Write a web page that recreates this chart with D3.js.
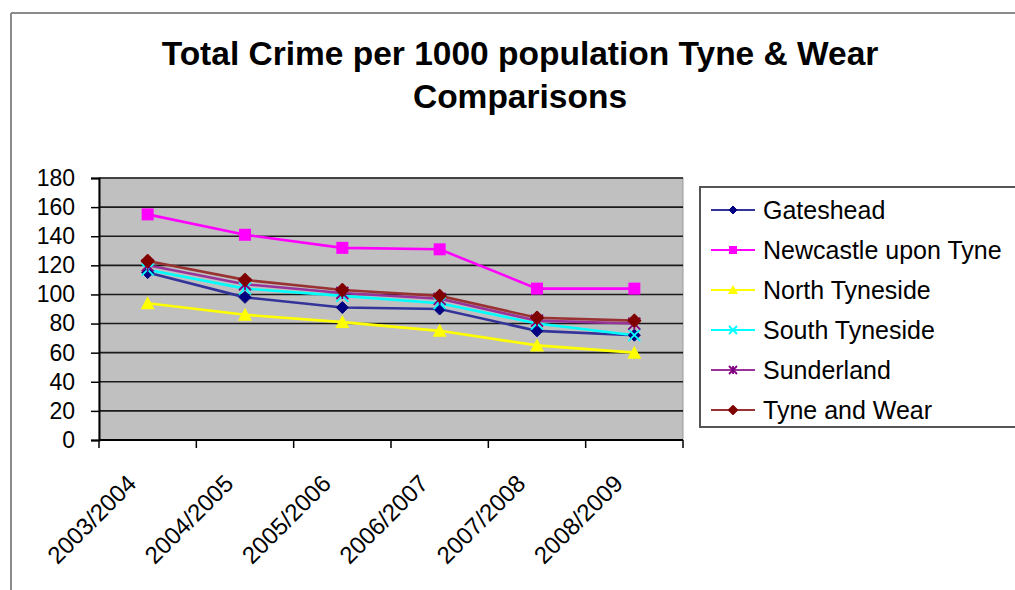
<!DOCTYPE html>
<html>
<head>
<meta charset="utf-8">
<script src="https://cdn.jsdelivr.net/npm/d3@7"></script>
<style>
  html, body { margin: 0; padding: 0; background: #fff; }
  svg { display: block; font-family: Arial, "Liberation Sans", sans-serif; }
</style>
</head>
<body>
<svg id="chart" width="1015" height="590"></svg>
<script>
// Financial years on the category axis
const years = ["2003/2004", "2004/2005", "2005/2006", "2006/2007", "2007/2008", "2008/2009"];

// Total crime per 1000 population, one array per area
const gateshead     = [115, 98, 91, 90, 75, 72];
const newcastle     = [155, 141, 132, 131, 104, 104];
const northTyneside = [94, 86, 81, 75, 65, 60];
const southTyneside = [117, 104, 99, 94, 80, 72];
const sunderland    = [120, 107, 101, 97, 82, 80];
const tyneAndWear   = [123, 110, 103, 99, 84, 82];

const seriesNames = ["Gateshead", "Newcastle upon Tyne", "North Tyneside", "South Tyneside", "Sunderland", "Tyne and Wear"];
const yTicks = [0, 20, 40, 60, 80, 100, 120, 140, 160, 180];

const series = [
  { name: seriesNames[0], values: gateshead,     line: "#333399", mark: "#000080", shape: "diamond" },
  { name: seriesNames[1], values: newcastle,     line: "#FF00FF", mark: "#FF00FF", shape: "square" },
  { name: seriesNames[2], values: northTyneside, line: "#FFFF00", mark: "#FFFF00", shape: "triangle" },
  { name: seriesNames[3], values: southTyneside, line: "#00FFFF", mark: "#00FFFF", shape: "cross" },
  { name: seriesNames[4], values: sunderland,    line: "#993399", mark: "#800080", shape: "star" },
  { name: seriesNames[5], values: tyneAndWear,   line: "#993333", mark: "#800000", shape: "dot" }
];

const svg = d3.select("#chart");

// outer frame of the chart
svg.append("line").attr("x1", 11).attr("x2", 1015).attr("y1", 13).attr("y2", 13)
  .attr("stroke", "#8a8a8a").attr("stroke-width", 2);
svg.append("line").attr("x1", 11).attr("x2", 11).attr("y1", 13).attr("y2", 590)
  .attr("stroke", "#8a8a8a").attr("stroke-width", 2);

// title
const title = svg.append("text").attr("text-anchor", "middle")
  .attr("font-size", 33.5).attr("font-weight", "bold").attr("fill", "#000");
title.append("tspan").attr("x", 520).attr("y", 65).text("Total Crime per 1000 population Tyne & Wear");
title.append("tspan").attr("x", 520).attr("y", 108).text("Comparisons");

const plot = { left: 99, right: 683, top: 178, bottom: 440 };

const x = d3.scaleBand().domain(years).range([plot.left, plot.right]);
const y = d3.scaleLinear().domain([0, 180]).range([plot.bottom, plot.top]);

// plot area
svg.append("rect")
  .attr("x", plot.left).attr("y", plot.top)
  .attr("width", plot.right - plot.left).attr("height", plot.bottom - plot.top)
  .attr("fill", "#C0C0C0").attr("stroke", "#9a9a9a").attr("stroke-width", 1);

// horizontal gridlines
svg.append("g").selectAll("line").data(yTicks.filter(d => d > 0)).join("line")
  .attr("x1", plot.left).attr("x2", plot.right)
  .attr("y1", d => y(d)).attr("y2", d => y(d))
  .attr("stroke", "#1a1a1a").attr("stroke-width", 1.6);

// y axis
const yAxis = svg.append("g").attr("transform", `translate(${plot.left},0)`)
  .call(d3.axisLeft(y).tickValues(yTicks).tickSize(8).tickPadding(16));
yAxis.select(".domain").attr("stroke", "#000").attr("stroke-width", 2);
yAxis.selectAll(".tick line").attr("stroke", "#000").attr("stroke-width", 1.5);
yAxis.selectAll(".tick text").attr("font-size", 23).attr("fill", "#000")
  .attr("font-family", "Arial, 'Liberation Sans', sans-serif");

// x axis: ticks sit on category boundaries
const xAxisG = svg.append("g").attr("transform", `translate(0,${plot.bottom})`);
xAxisG.append("line").attr("x1", plot.left).attr("x2", plot.right).attr("y1", 0).attr("y2", 0)
  .attr("stroke", "#000").attr("stroke-width", 2);
const bounds = years.map(d => x(d)).concat([x(years[years.length - 1]) + x.bandwidth()]);
xAxisG.selectAll("line.tk").data(bounds).join("line").attr("class", "tk")
  .attr("x1", d => d).attr("x2", d => d).attr("y1", 0).attr("y2", 8)
  .attr("stroke", "#000").attr("stroke-width", 1.5);
xAxisG.selectAll("text").data(years).join("text")
  .attr("text-anchor", "end")
  .attr("font-size", 24).attr("fill", "#000")
  .attr("transform", d => `translate(${x(d) + x.bandwidth() / 2 - 10},${45}) rotate(-45)`)
  .text(d => d);

const cx = d => x(d) + x.bandwidth() / 2;

const line = d3.line().x((v, i) => cx(years[i])).y(v => y(v));

function drawMarker(g, shape, color, s) {
  if (shape === "diamond") {
    g.append("path").attr("d", `M0,${-s}L${s},0L0,${s}L${-s},0Z`).attr("fill", color).attr("stroke", color);
  } else if (shape === "square") {
    g.append("rect").attr("x", -s).attr("y", -s).attr("width", 2 * s).attr("height", 2 * s).attr("fill", color);
  } else if (shape === "triangle") {
    g.append("path").attr("d", `M0,${-s - 1}L${s + 1},${s}L${-s - 1},${s}Z`).attr("fill", color);
  } else if (shape === "cross") {
    g.append("path").attr("d", `M${-s},${-s}L${s},${s}M${-s},${s}L${s},${-s}`).attr("stroke", color).attr("stroke-width", 1.8);
  } else if (shape === "star") {
    g.append("path").attr("d", `M${-s},${-s}L${s},${s}M${-s},${s}L${s},${-s}M0,${-s}L0,${s}`).attr("stroke", color).attr("stroke-width", 1.8);
  } else if (shape === "dot") {
    g.append("path").attr("d", `M0,${-s}L${s},0L0,${s}L${-s},0Z`).attr("fill", color).attr("stroke", color).attr("stroke-width", 2).attr("stroke-linejoin", "round");
  }
}

// series lines then markers
series.forEach(s => {
  svg.append("path").datum(s.values)
    .attr("d", line).attr("fill", "none")
    .attr("stroke", s.line).attr("stroke-width", 2.6);
});
series.forEach(s => {
  s.values.forEach((v, i) => {
    const g = svg.append("g").attr("transform", `translate(${cx(years[i])},${y(v)})`);
    drawMarker(g, s.shape, s.mark, 6);
  });
});

// legend
const legend = svg.append("g");
legend.append("rect").attr("x", 700).attr("y", 187).attr("width", 330).attr("height", 240)
  .attr("fill", "#fff").attr("stroke", "#555").attr("stroke-width", 2);
series.forEach((s, i) => {
  const ly = 210 + i * 40;
  legend.append("line").attr("x1", 711).attr("x2", 755).attr("y1", ly).attr("y2", ly)
    .attr("stroke", s.line).attr("stroke-width", 2.2);
  const g = legend.append("g").attr("transform", `translate(733,${ly})`);
  drawMarker(g, s.shape, s.mark, 4);
  legend.append("text").attr("x", 763).attr("y", ly + 8.5)
    .attr("font-size", 25).attr("fill", "#000").text(s.name);
});
</script>
</body>
</html>
